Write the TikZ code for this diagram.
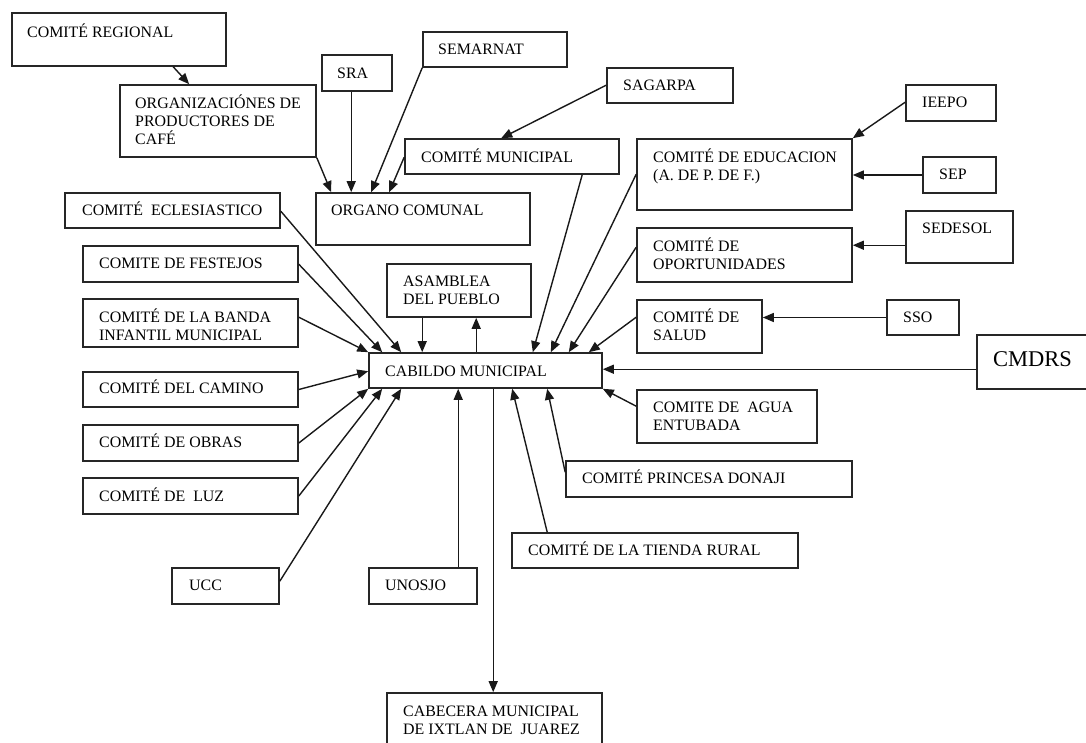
\documentclass[tikz,border=0pt]{standalone}
\usepackage{fontspec}
\setmainfont{Liberation Serif}
\usetikzlibrary{arrows.meta,fit,calc}
\tikzset{
 box/.style={draw, line width=1.6pt, inner sep=0pt, draw=black!85},
 lbl/.style={inner sep=0pt, anchor=north west, align=left, font=\fontsize{15.9}{18}\selectfont},
 arr/.style={line width=1.4pt, draw=black!90, -{Triangle[length=11pt,width=9pt]}}
}
\newcommand\bx[5]{\node[box, fit={(#2,#3)(#4,#5)}] (#1) {};}
\newcommand\lb[4]{\node[lbl] (#1) at (#2,{#3-14}) {\rule{0pt}{14pt}#4};}
\begin{document}
\begin{tikzpicture}[x=1pt,y=-1pt]
\useasboundingbox (0,0) rectangle (1086,742);
% boxes
\bx{reg}{12}{13}{226}{66}
\bx{org}{120}{85}{316}{157}
\bx{sra}{322}{55}{392}{91}
\bx{sem}{423}{32}{567}{67}
\bx{sag}{607}{68}{733}{103}
\bx{ogc}{316}{193}{530}{245}
\bx{mun}{405}{139}{619}{174}
\bx{edu}{637}{139}{852}{210}
\bx{iee}{906}{85}{996}{121}
\bx{sep}{923}{157}{996}{193}
\bx{sed}{906}{211}{1013}{263}
\bx{opo}{637}{228}{852}{282}
\bx{sal}{637}{300}{762}{353}
\bx{sso}{887}{300}{959}{335}
\bx{cmd}{977}{335}{1095}{389}
\bx{cab}{369}{353}{602}{388}
\bx{asm}{387}{264}{531}{317}
\bx{agu}{637}{390}{817}{443}
\bx{pri}{566}{461}{852}{497}
\bx{tie}{512}{533}{798}{568}
\bx{uno}{369}{568}{477}{604}
\bx{cbc}{387}{693}{602}{760}
\bx{ucc}{172}{568}{279}{604}
\bx{ecl}{65}{193}{280}{228}
\bx{fes}{83}{246}{298}{282}
\bx{ban}{83}{299}{298}{347}
\bx{cam}{83}{372}{298}{407}
\bx{obr}{83}{425}{298}{461}
\bx{luz}{83}{478}{298}{514}
% labels
\lb{regt}{27}{37}{COMITÉ REGIONAL}
\lb{orgt}{135}{108}{ORGANIZACIÓNES DE\\PRODUCTORES DE\\CAFÉ}
\lb{srat}{337}{78}{SRA}
\lb{semt}{438}{54}{SEMARNAT}
\lb{sagt}{623}{90}{SAGARPA}
\lb{ogct}{331}{215}{ORGANO COMUNAL}
\lb{munt}{421}{162}{COMITÉ MUNICIPAL}
\lb{edut}{653}{162}{COMITÉ DE EDUCACION\\(A. DE P. DE F.)}
\lb{ieet}{922}{107}{IEEPO}
\lb{sept}{939}{179}{SEP}
\lb{sedt}{922}{233}{SEDESOL}
\lb{opot}{653}{251}{COMITÉ DE\\OPORTUNIDADES}
\lb{salt}{653}{322}{COMITÉ DE\\SALUD}
\lb{ssot}{903}{322}{SSO}
\node[inner sep=0pt, anchor=base west, font=\fontsize{22.5}{24}\selectfont] (cmdt) at (993,366) {CMDRS};
\lb{cabt}{385}{376}{CABILDO MUNICIPAL}
\lb{asmt}{403}{286}{ASAMBLEA\\DEL PUEBLO}
\lb{agut}{653}{412}{COMITE DE \ AGUA\\ENTUBADA}
\lb{prit}{582}{483}{COMITÉ PRINCESA DONAJI}
\lb{tiet}{528}{555}{COMITÉ DE LA TIENDA RURAL}
\lb{unot}{385}{590}{UNOSJO}
\lb{cbct}{403}{716}{CABECERA MUNICIPAL\\DE IXTLAN DE \ JUAREZ}
\lb{ucct}{189}{590}{UCC}
\lb{eclt}{82}{215}{COMITÉ \ ECLESIASTICO}
\lb{fest}{99}{268}{COMITE DE FESTEJOS}
\lb{bant}{99}{322}{COMITÉ DE LA BANDA\\INFANTIL MUNICIPAL}
\lb{camt}{99}{393}{COMITÉ DEL CAMINO}
\lb{obrt}{99}{447}{COMITÉ DE OBRAS}
\lb{luzt}{99}{501}{COMITÉ DE \ LUZ}
% connectors: top group
\draw[arr] ([xshift=162pt]reg.south west) -- ([xshift=70pt]org.north west);
\draw[arr] (org.south east) -- ([xshift=16pt]ogc.north west);
\draw[arr] ([xshift=30pt]sra.south west) -- ([xshift=36pt]ogc.north west);
\draw[arr] (sem.south west) -- ([xshift=56pt]ogc.north west);
\draw[arr] ([yshift=-19pt]mun.north west) -- ([xshift=74pt]ogc.north west);
\draw[arr] ([yshift=-18pt]sag.north west) -- ([xshift=97pt]mun.north west);
\draw[arr] ([yshift=-18pt]iee.north west) -- (edu.north east);
\draw[arr] (sep.west) -- (sep.west -| edu.east);
\draw[arr] ([yshift=-35pt]sed.north west) coordinate (sedp) -- (sedp -| opo.east);
\draw[arr] (sso.west) -- (sso.west -| sal.east);
\draw[arr] ([yshift=-35pt]cmd.north west) coordinate (cmdp) -- (cmdp -| cab.east);
% into cabildo, right/top
\draw[arr] ([yshift=-18pt]sal.north west) -- ([xshift=-14pt]cab.north east);
\draw[arr] ([yshift=-20pt]opo.north west) -- ([xshift=-34pt]cab.north east);
\draw[arr] ([yshift=-36pt]edu.north west) -- ([xshift=-52pt]cab.north east);
\draw[arr] ([xshift=178pt]mun.south west) -- ([xshift=-70pt]cab.north east);
\draw[arr] ([xshift=36pt]asm.south west) coordinate (asmp) -- (asmp |- cab.north);
\draw[arr] ([xshift=108pt]cab.north west) coordinate (cabp) -- (cabp |- asm.south);
% left group
\draw[arr] ([yshift=-19pt]ecl.north east) -- ([xshift=33pt]cab.north west);
\draw[arr] ([yshift=-19pt]fes.north east) -- ([xshift=14pt]cab.north west);
\draw[arr] ([yshift=-19pt]ban.north east) -- (cab.north west);
\draw[arr] (cam.east) -- ([yshift=-19pt]cab.north west);
\draw[arr] (obr.east) -- (cab.south west);
\draw[arr] (luz.east) -- ([xshift=14pt]cab.south west);
\draw[arr] ([yshift=-14pt]ucc.north east) -- ([xshift=33pt]cab.south west);
% bottom group
\draw[arr] ([xshift=90pt]uno.north west) coordinate (unop) -- (unop |- cab.south);
\draw[arr] ([xshift=125pt]cab.south west) coordinate (cabq) -- (cabq |- cbc.north);
\draw[arr] ([xshift=36pt]tie.north west) -- ([xshift=144pt]cab.south west);
\draw[arr] ([yshift=-12pt]pri.north west) -- ([xshift=179pt]cab.south west);
\draw[arr] ([yshift=-17pt]agu.north west) -- (cab.south east);
\end{tikzpicture}
\end{document}
